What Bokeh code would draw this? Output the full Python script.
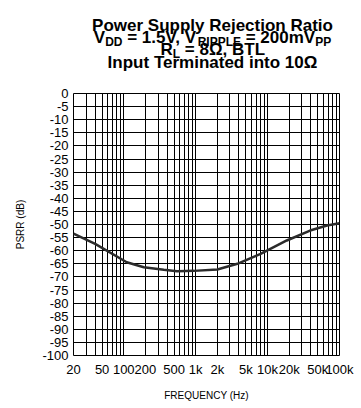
from bokeh.plotting import figure
from bokeh.layouts import column
from bokeh.models import Range1d, FixedTicker, Label
from bokeh.embed import file_html
from bokeh.resources import INLINE

# PSRR curve, input terminated into 10 ohm
freq_hz = [20, 40, 110, 190, 360, 550, 940, 2000, 3800, 8000, 18500, 39000, 67000, 100000]
psrr_db = [-53.5, -57.4, -64.4, -66.3, -67.3, -67.8, -67.7, -67.2, -65.0, -61.2, -56.1, -52.3, -50.4, -49.5]

x_tick_values = [20, 50, 100, 200, 500, 1000, 2000, 5000, 10000, 20000, 50000, 100000]
x_tick_labels = ["20", "50", "100", "200", "500", "1k", "2k", "5k", "10k", "20k", "50k", "100k"]
y_tick_values = [0, -5, -10, -15, -20, -25, -30, -35, -40, -45, -50,
                 -55, -60, -65, -70, -75, -80, -85, -90, -95, -100]

# log grid: every 1..9 step of each decade
x_grid_values = [m * 10 ** e for e in range(1, 5) for m in range(1, 10) if m * 10 ** e >= 20] + [100000]

FONT = "Liberation Sans"
W = 361
HEAD_H = 85
LEFT, RIGHT = 73, 22          # borders shared by both canvases (frames line up)

# ---------- heading: its own canvas, coordinates in page px (y downward) ----------
hdr = figure(width=W, height=HEAD_H, x_range=Range1d(LEFT, W - RIGHT),
             y_range=Range1d(HEAD_H, 0),
             output_backend="svg", toolbar_location=None,
             x_axis_location=None, y_axis_location=None,
             min_border_left=LEFT, min_border_right=RIGHT,
             min_border_top=0, min_border_bottom=0)
hdr.outline_line_color = None
hdr.xgrid.visible = False
hdr.ygrid.visible = False
hdr.background_fill_color = "white"
hdr.border_fill_color = "white"

ADV = {" ": 278, "=": 584, ".": 278, ",": 278, "V": 667, "D": 722, "R": 722,
       "I": 278, "P": 667, "L": 611, "E": 667, "B": 722, "T": 611, "m": 889,
       "\u03a9": 768}
for d in "0123456789":
    ADV[d] = 556

def run_width(s, size):
    return sum(ADV.get(c, 556) for c in s) * size / 1000.0

MAIN, SUB, DROP = 17, 12, 4
center_x = 212

def heading_label(x, baseline, text, size, align):
    hdr.add_layout(Label(x=x, y=baseline, text=text, text_font=FONT,
                         text_font_style="bold", text_font_size=f"{size}px",
                         text_color="black", text_align=align,
                         text_baseline="alphabetic"))

def add_line(runs, baseline):
    total = sum(run_width(t, SUB if sub else MAIN) for t, sub in runs)
    x = center_x - total / 2
    for t, sub in runs:
        size = SUB if sub else MAIN
        # svg drops leading blanks, so advance past them by hand
        body = t.lstrip(" ")
        x += run_width(t[:len(t) - len(body)], size)
        heading_label(x, baseline + (DROP if sub else 0), body, size, "left")
        x += run_width(body, size)

heading_label(center_x, 25, "Power Supply Rejection Ratio", MAIN, "center")
add_line([("V", False), ("DD", True), (" = 1.5V, V", False), ("RIPPLE", True),
          (" = 200mV", False), ("PP", True)], 37)
add_line([("R", False), ("L", True), (" = 8\u03a9, BTL", False)], 49)
heading_label(center_x, 62, "Input Terminated into 10\u03a9", MAIN, "center")

# ---------- PSRR chart ----------
p = figure(width=W, height=408 - HEAD_H, x_axis_type="log",
           x_range=Range1d(20, 100000), y_range=Range1d(-100, 0),
           output_backend="svg", toolbar_location=None,
           min_border_left=LEFT, min_border_right=RIGHT,
           min_border_top=93 - HEAD_H, min_border_bottom=53)

p.background_fill_color = "white"
p.border_fill_color = "white"
p.outline_line_color = "black"
p.outline_line_width = 1
p.outline_line_alpha = 1

xa = p.xaxis[0]
xa.ticker = FixedTicker(ticks=x_tick_values)
xa.major_label_overrides = {v: s for v, s in zip(x_tick_values, x_tick_labels)}
ya = p.yaxis[0]
ya.ticker = FixedTicker(ticks=y_tick_values)
ya.major_label_overrides = {v: str(v) for v in y_tick_values}

for ax in (xa, ya):
    ax.axis_line_color = None
    ax.major_tick_line_color = None
    ax.minor_tick_line_color = None
    ax.major_tick_out = 0
    ax.major_tick_in = 0
    ax.major_label_text_font = FONT
    ax.major_label_text_font_size = "13px"
    ax.major_label_text_color = "black"
    ax.axis_label_text_font = FONT
    ax.axis_label_text_font_size = "10px"
    ax.axis_label_text_font_style = "normal"
    ax.axis_label_text_color = "black"

xa.major_label_standoff = 6
xa.axis_label = "FREQUENCY (Hz)"
xa.axis_label_standoff = 10
ya.major_label_standoff = 5
ya.axis_label = "PSRR (dB)"
ya.axis_label_standoff = 13

p.xgrid.ticker = FixedTicker(ticks=x_grid_values)
p.ygrid.ticker = FixedTicker(ticks=y_tick_values)
for g in (p.xgrid[0], p.ygrid[0]):
    g.grid_line_color = "black"
    g.grid_line_alpha = 1
    g.grid_line_width = 1

p.line(freq_hz, psrr_db, line_color="#2b2b2b", line_width=2.5)

layout = column(hdr, p, spacing=0)
open("out.html", "w").write(file_html(layout, INLINE))
